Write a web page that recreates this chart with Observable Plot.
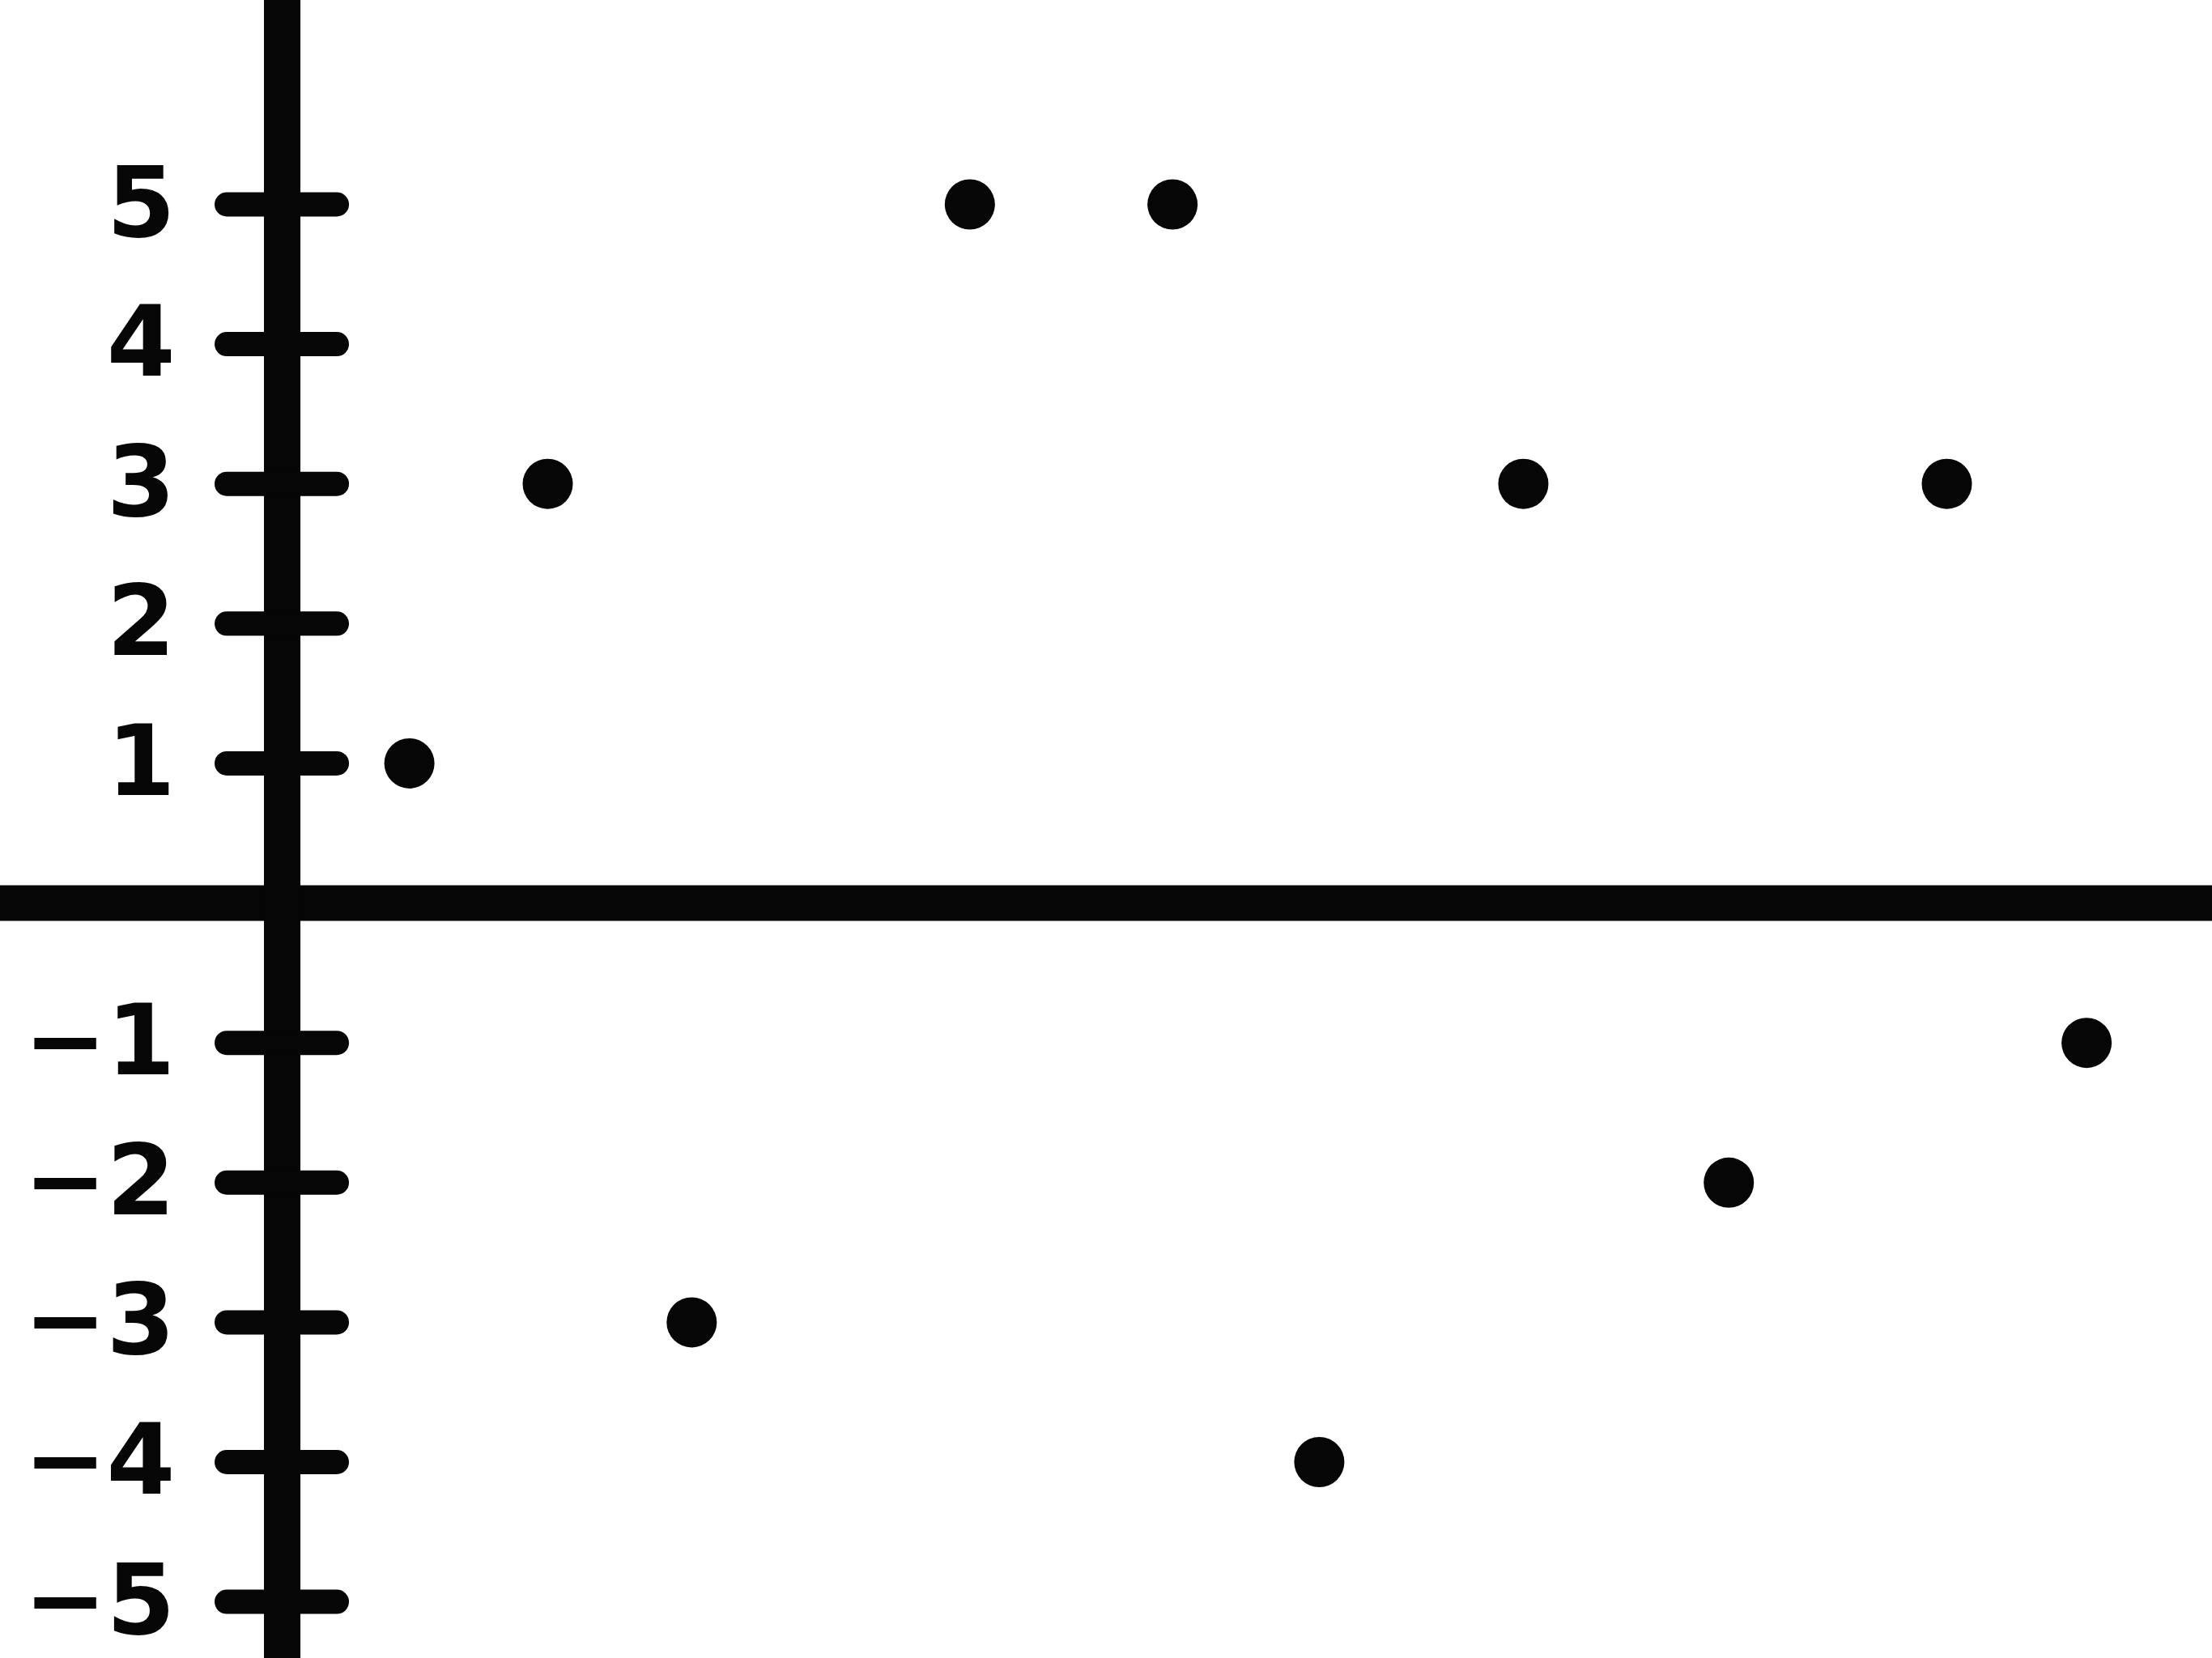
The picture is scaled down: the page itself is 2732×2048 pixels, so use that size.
<!DOCTYPE html>
<html>
<head>
<meta charset="utf-8">
<script src="https://cdn.jsdelivr.net/npm/d3@7"></script>
<script src="https://cdn.jsdelivr.net/npm/@observablehq/plot@0.6"></script>
<style>
  html, body { margin: 0; padding: 0; background: #ffffff; }
  #chart svg { display: block; }
</style>
</head>
<body>
<div id="chart"></div>
<script>
// Data
const pointX = [0.91, 1.90, 2.93, 4.92, 6.37, 7.42, 8.88, 10.35, 11.91, 12.91];
const pointY = [1, 3, -3, 5, 5, -4, 3, -2, 3, -1];
const yTicks = [5, 4, 3, 2, 1, -1, -2, -3, -4, -5];
const yTickLabels = ["5", "4", "3", "2", "1", "−1", "−2", "−3", "−4", "−5"];

const points = pointX.map((x, i) => ({x, y: pointY[i]}));
const ticks = yTicks.map((v, i) => ({v, label: yTickLabels[i]}));

const ink = "#060606";

const chart = Plot.plot({
  width: 2732,
  height: 2048,
  margin: 0,
  style: {background: "#ffffff"},
  x: {domain: [-2.016, 13.81], axis: null},
  y: {domain: [-5.405, 6.46], axis: null},
  marks: [
    Plot.ruleY([0], {stroke: ink, strokeWidth: 44, strokeLinecap: "round"}),
    Plot.ruleX([0], {stroke: ink, strokeWidth: 45, strokeLinecap: "round"}),
    Plot.ruleY(ticks, {y: "v", x1: 0, x2: 0, insetLeft: -68, insetRight: -68,
      stroke: ink, strokeWidth: 30, strokeLinecap: "round"}),
    Plot.text(ticks, {y: "v", x: 0, text: "label", dx: -132, textAnchor: "end",
      fontSize: 122, fontWeight: "bold", fontFamily: "DejaVu Sans", fill: ink}),
    Plot.dot(points, {x: "x", y: "y", r: 31, fill: ink, stroke: "none"})
  ]
});
document.getElementById("chart").appendChild(chart);
</script>
</body>
</html>
